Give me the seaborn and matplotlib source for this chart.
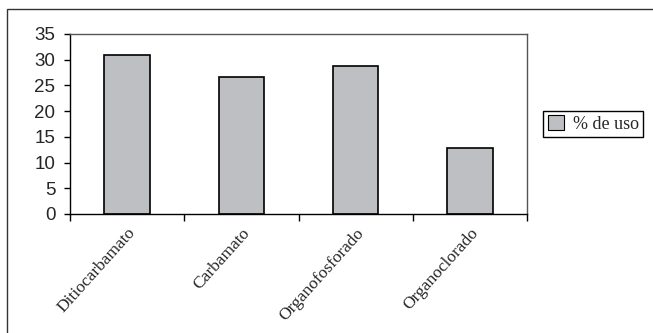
import matplotlib
matplotlib.use("Agg")
import matplotlib.pyplot as plt
import seaborn as sns
import pandas as pd
from matplotlib.patches import Rectangle, Patch

categories = ["Ditiocarbamato", "Carbamato", "Organofosforado", "Organoclorado"]
uso = [30.9, 26.6, 28.7, 12.8]
y_ticks = [0, 5, 10, 15, 20, 25, 30, 35]
series_label = "% de uso"

df = pd.DataFrame({"categoria": categories, "uso": uso})

sns.set_style("white")
W, H = 653, 333
fig = plt.figure(figsize=(W / 100, H / 100), dpi=100)
ax = fig.add_axes([70 / W, 1 - 214 / H, (527 - 70) / W, (214 - 34) / H])

bar_color = "#bebfc3"
sns.barplot(data=df, x="categoria", y="uso", color=bar_color, width=0.4,
            edgecolor="black", linewidth=1.2, saturation=1, ax=ax)

ax.set_xlim(-0.5, len(categories) - 0.5)
ax.set_ylim(0, 35)
ax.set_yticks(y_ticks)
ax.set_yticklabels([str(t) for t in y_ticks], fontfamily="Liberation Sans", fontsize=13.5)
ax.tick_params(axis="y", direction="out", length=4.5, width=1, color="black", pad=6, left=True)

# category boundaries carry the tick marks, centres carry the labels
ax.set_xticks([i - 0.5 for i in range(len(categories) + 1)])
ax.set_xticklabels([])
ax.set_xticks(range(len(categories)), minor=True)
ax.set_xticklabels(categories, minor=True, rotation=48, ha="right",
                   rotation_mode="anchor", fontfamily="Liberation Serif", fontsize=12.5)
ax.tick_params(axis="x", which="major", direction="out", length=5, width=1,
               color="black", bottom=True)
ax.tick_params(axis="x", which="minor", length=0, pad=8)
ax.set_xlabel("")
ax.set_ylabel("")

for side in ["left", "bottom"]:
    ax.spines[side].set_color("black")
    ax.spines[side].set_linewidth(1.0)
for side in ["top", "right"]:
    ax.spines[side].set_color("#555555")
    ax.spines[side].set_linewidth(1.0)

# outer chart frame
fig.patches.append(Rectangle((7 / W, -0.1), 2.0, 1 - 9 / H + 0.1,
                             transform=fig.transFigure, fill=False,
                             edgecolor="#333333", linewidth=1.0, clip_on=False))

handle = Patch(facecolor=bar_color, edgecolor="black", linewidth=0.8)
leg = fig.legend([handle], [series_label], loc="center left",
                 bbox_to_anchor=(543 / W, 1 - 124 / H),
                 frameon=True, fancybox=False, framealpha=1,
                 prop={"family": "Liberation Serif", "size": 13},
                 handlelength=0.9, handleheight=0.9, handletextpad=0.5,
                 borderpad=0.25, borderaxespad=0)
leg.get_frame().set_edgecolor("black")
leg.get_frame().set_linewidth(1.0)

fig.savefig("out.png", dpi=100)
